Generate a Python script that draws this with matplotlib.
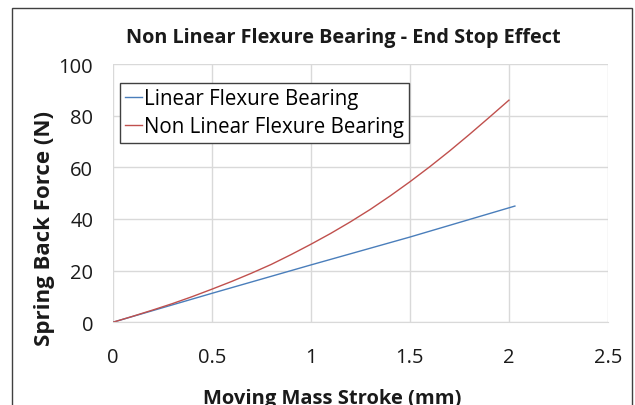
import matplotlib
matplotlib.use('Agg')
import matplotlib.pyplot as plt
from matplotlib.patches import Rectangle

# Stroke (mm) vs spring back force (N)
x_linear = [0, 0.5, 1.0, 1.5, 2.03]
f_linear = [0, 11.2, 22.2, 33.0, 45.0]

x_nonlin = [0, 0.1, 0.2, 0.3, 0.4, 0.5, 0.6, 0.7, 0.8, 0.9, 1.0,
            1.1, 1.2, 1.3, 1.4, 1.5, 1.6, 1.7, 1.8, 1.9, 2.0]
f_nonlin = [0, 2.3, 4.7, 7.2, 9.9, 12.8, 15.8, 19.0, 22.4, 26.2, 30.2,
            34.4, 38.9, 43.7, 48.9, 54.4, 60.2, 66.3, 72.7, 79.3, 86.0]

xticks = [0, 0.5, 1, 1.5, 2, 2.5]
xticklabels = ['0', '0.5', '1', '1.5', '2', '2.5']
yticks = [0, 20, 40, 60, 80, 100]

plt.rcParams['font.family'] = ['Open Sans', 'DejaVu Sans']

W, H = 635, 406
fig = plt.figure(figsize=(W / 100, H / 100), dpi=100)
ax = fig.add_axes([112.7 / W, 1 - 323.3 / H, (608 - 112.7) / W, (323.3 - 65) / H])

ax.plot(x_linear, f_linear, color='#4a7ebb', lw=1.0, label='Linear Flexure Bearing')
ax.plot(x_nonlin, f_nonlin, color='#c0504d', lw=1.0, label='Non Linear Flexure Bearing')

ax.set_xlim(0, 2.5)
ax.set_ylim(0, 100)
ax.set_xticks(xticks)
ax.set_xticklabels(xticklabels)
ax.set_yticks(yticks)
ax.grid(True, color='#d9d9d9', lw=1)
ax.set_axisbelow(True)
for s in ['top', 'right', 'left']:
    ax.spines[s].set_visible(False)
ax.spines['bottom'].set_color('#d9d9d9')
ax.tick_params(length=0, labelsize=14.5, colors='#1a1a1a')
ax.tick_params(axis='x', pad=18)
ax.tick_params(axis='y', pad=14)

# titles sit off-centre in the reference, so place them on the figure
fig.text(343.5 / W, 1 - 43 / H, 'Non Linear Flexure Bearing - End Stop Effect',
         fontsize=14.3, fontweight='bold', ha='center', va='baseline', color='#1a1a1a')
fig.text(332.5 / W, 1 - 404 / H, 'Moving Mass Stroke (mm)',
         fontsize=14.5, fontweight='bold', ha='center', va='baseline', color='#1a1a1a')
fig.text(45 / W, 1 - 228 / H, 'Spring Back Force (N)', rotation=90,
         fontsize=16, fontweight='bold', ha='center', va='center', color='#1a1a1a')

leg = ax.legend(loc='upper left', bbox_to_anchor=(0.015, 0.926), fontsize=14.8,
                handlelength=0.8, handletextpad=0.1, borderpad=0.25,
                labelspacing=0.35, borderaxespad=0, fancybox=False, framealpha=1)
leg.get_frame().set_edgecolor('#404040')
leg.get_frame().set_linewidth(1)

# outer chart border
fig.patches.append(Rectangle((12 / W, -0.01), (632 - 12) / W, 1 - 9 / H + 0.01,
                             transform=fig.transFigure, fill=False,
                             edgecolor='#404040', lw=1))

fig.savefig('out.png', dpi=100)
